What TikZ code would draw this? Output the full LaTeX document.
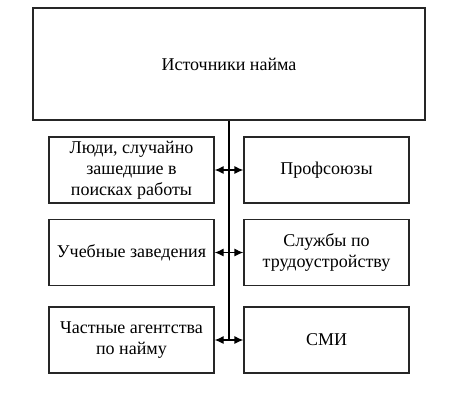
\documentclass[tikz,border=0pt]{standalone}
\usepackage{fontspec}
\setmainfont{Liberation Serif}
\usetikzlibrary{arrows.meta}

\begin{document}
\begin{tikzpicture}[x=1pt, y=-1pt,
    box/.style={rectangle, draw=black!85, line width=1.2pt, minimum width=165pt, minimum height=66pt, align=center, font=\fontsize{18}{21}\selectfont},
    arrow/.style={-{Latex[length=9pt,width=8pt]}, line width=1.2pt}
]
    \useasboundingbox (0,0) rectangle (454,394);
    \node[box, minimum width=392pt, minimum height=112pt] (src) at (229,64) {Источники найма};

    \node[box] (people) at (131.5,170) {Люди, случайно\\зашедшие в\\поисках работы};
    \node[box] (union) at (326.5,170) {Профсоюзы};
    \node[box] (school) at (131.5,252.5) {Учебные заведения};
    \node[box] (service) at (326.5,252.5) {Службы по\\трудоустройству};
    \node[box] (agency) at (131.5,340) {Частные агентства\\по найму};
    \node[box] (media) at (326.5,340) {СМИ};

    \coordinate (j1) at (229,170);
    \coordinate (j2) at (229,252.5);
    \coordinate (j3) at (229,340);

    \draw[line width=1.2pt] (src.south) -- (j3);
    \foreach \a/\b/\j in {people/union/j1, school/service/j2, agency/media/j3} {
        \draw[arrow] (\j) -- (\a.east);
        \draw[arrow] (\j) -- (\b.west);
    }
\end{tikzpicture}
\end{document}
